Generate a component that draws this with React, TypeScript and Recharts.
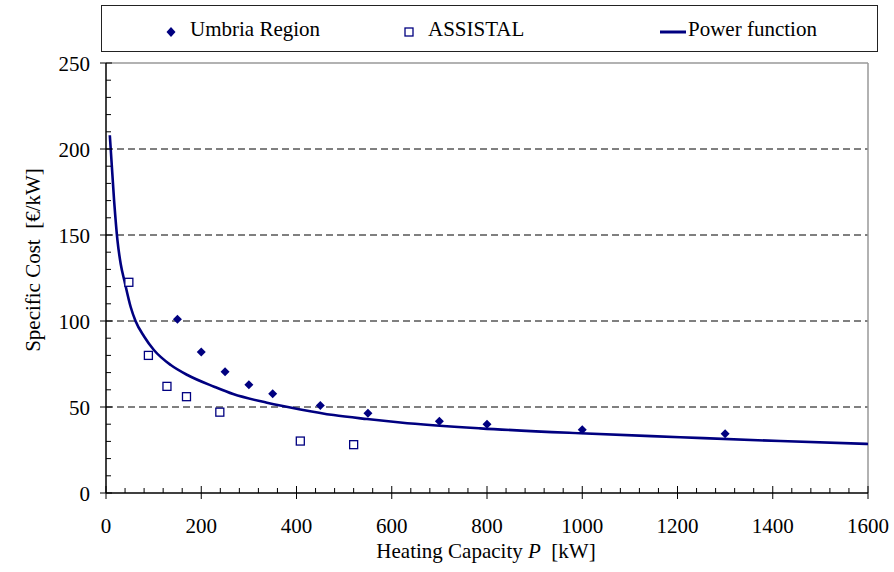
import React from "react";
import {
  ComposedChart,
  Scatter,
  Line,
  XAxis,
  YAxis,
  CartesianGrid,
  ReferenceLine,
  Label,
} from "recharts";

const NAVY = "#000080";
const FONT = "Liberation Serif, Times New Roman, Times, serif";
const FS = 21;

// Umbria Region plants: heating capacity [kW] and specific cost [€/kW]
const umbriaP = [150, 200, 250, 300, 350, 450, 550, 700, 800, 1000, 1300];
const umbriaCost = [101, 82, 70.5, 63, 57.7, 50.8, 46.3, 41.7, 39.9, 36.8, 34.5];

// ASSISTAL reference costs
const assistalP = [48, 89, 128, 169, 239, 408, 520];
const assistalCost = [122.5, 80, 62, 56, 47, 30.2, 28.1];

// power function trend
const trendP = [8, 17, 24, 31, 39, 52, 62, 80, 101, 136, 171, 227, 267, 338, 408, 478, 548, 618, 786, 996, 1206, 1416, 1600];
const trendCost = [208, 170, 147, 133, 123, 108, 100, 91, 83, 74.4, 68.6, 61.8, 57.5, 52.5, 48.6, 45.3, 43, 41, 37.6, 34.7, 32.4, 30.2, 28.5];

const xTicks = Array.from({ length: 41 }, (_, i) => i * 40);
const yTicks = Array.from({ length: 26 }, (_, i) => i * 10);

const umbria = umbriaP.map((x, i) => ({ x, y: umbriaCost[i] }));
const assistal = assistalP.map((x, i) => ({ x, y: assistalCost[i] }));
const trend = trendP.map((x, i) => ({ x, y: trendCost[i] }));

const Diamond = (props: any) => {
  const { cx, cy } = props;
  const r = 4.5;
  return (
    <polygon
      points={`${cx},${cy - r} ${cx + r},${cy} ${cx},${cy + r} ${cx - r},${cy}`}
      fill={NAVY}
    />
  );
};

const OpenSquare = (props: any) => {
  const { cx, cy } = props;
  const s = 4;
  return (
    <rect x={cx - s} y={cy - s} width={s * 2} height={s * 2} fill="#fff" stroke={NAVY} strokeWidth={1.3} />
  );
};

const XTick = (props: any) => {
  const { x, y, payload } = props;
  const major = payload.value % 200 === 0;
  return (
    <g>
      <line x1={x} x2={x} y1={major ? y - 7 : y - 5} y2={major ? y + 6 : y} stroke="#000" strokeWidth={1} />
      {major && (
        <text x={x} y={y + 40} textAnchor="middle" fontSize={FS} fontFamily={FONT} fill="#000">
          {payload.value}
        </text>
      )}
    </g>
  );
};

const YTick = (props: any) => {
  const { x, y, payload } = props;
  const major = payload.value % 50 === 0;
  return (
    <g>
      <line x1={major ? x - 6 : x} x2={major ? x + 6 : x + 5} y1={y} y2={y} stroke="#000" strokeWidth={1} />
      {major && (
        <text x={x - 16} y={y + 7.5} textAnchor="end" fontSize={FS} fontFamily={FONT} fill="#000">
          {payload.value}
        </text>
      )}
    </g>
  );
};

function LegendBox() {
  const text: React.CSSProperties = {
    position: "absolute",
    top: 0,
    lineHeight: "46px",
    fontFamily: FONT,
    fontSize: FS,
    color: "#000",
    whiteSpace: "nowrap",
  };
  return (
    <div
      style={{
        position: "absolute",
        left: 101,
        top: 5,
        width: 775,
        height: 45,
        border: "1px solid #222",
        background: "#fff",
      }}
    >
      <svg width={775} height={45} style={{ position: "absolute", left: 0, top: 0 }}>
        <polygon points="69,21 73.5,26 69,31 64.5,26" fill={NAVY} />
        <rect x={303} y={22} width={8} height={8} fill="#fff" stroke={NAVY} strokeWidth={1.3} />
        <line x1={558} x2={584} y1={26} y2={26} stroke={NAVY} strokeWidth={3} />
      </svg>
      <span style={{ ...text, left: 88 }}>Umbria Region</span>
      <span style={{ ...text, left: 326 }}>ASSISTAL</span>
      <span style={{ ...text, left: 586 }}>Power function</span>
    </div>
  );
}

export default function App() {
  return (
    <div style={{ position: "absolute", left: 0, top: 0, width: 894, height: 572, background: "#fff", fontFamily: FONT }}>
      <ComposedChart
        width={894}
        height={572}
        margin={{ top: 63, right: 26, bottom: 39, left: 50 }}
      >
        <CartesianGrid
          vertical={false}
          horizontalValues={[50, 100, 150, 200]}
          stroke="#000"
          strokeDasharray="7 4"
        />
        <XAxis
          type="number"
          dataKey="x"
          domain={[0, 1600]}
          ticks={xTicks}
          interval={0}
          tick={<XTick />}
          tickLine={false}
          tickSize={0}
          tickMargin={0}
          height={40}
          axisLine={{ stroke: "#000", strokeWidth: 1.5 }}
        >
          <Label
            content={() => (
              <text x={486} y={558} textAnchor="middle" fontSize={FS} fontFamily={FONT} fill="#000">
                Heating Capacity <tspan fontStyle="italic">P</tspan>{"\u00a0 [kW]"}
              </text>
            )}
          />
        </XAxis>
        <YAxis
          type="number"
          dataKey="y"
          domain={[0, 250]}
          ticks={yTicks}
          interval={0}
          tick={<YTick />}
          tickLine={false}
          tickSize={0}
          tickMargin={0}
          width={56}
          axisLine={{ stroke: "#000", strokeWidth: 1.5 }}
        >
          <Label
            content={() => (
              <text
                x={40}
                y={260}
                transform="rotate(-90 40 260)"
                textAnchor="middle"
                fontSize={FS}
                fontFamily={FONT}
                fill="#000"
              >
                {"Specific Cost\u00a0 [€/kW]"}
              </text>
            )}
          />
        </YAxis>
        <ReferenceLine y={250} stroke="#999" strokeWidth={1.5} />
        <ReferenceLine x={1600} stroke="#999" strokeWidth={1.5} />
        <Line
          data={trend}
          dataKey="y"
          type="monotone"
          stroke={NAVY}
          strokeWidth={2.6}
          dot={false}
          isAnimationActive={false}
        />
        <Scatter data={assistal} dataKey="y" shape={<OpenSquare />} isAnimationActive={false} />
        <Scatter data={umbria} dataKey="y" shape={<Diamond />} isAnimationActive={false} />
      </ComposedChart>
      <LegendBox />
    </div>
  );
}
